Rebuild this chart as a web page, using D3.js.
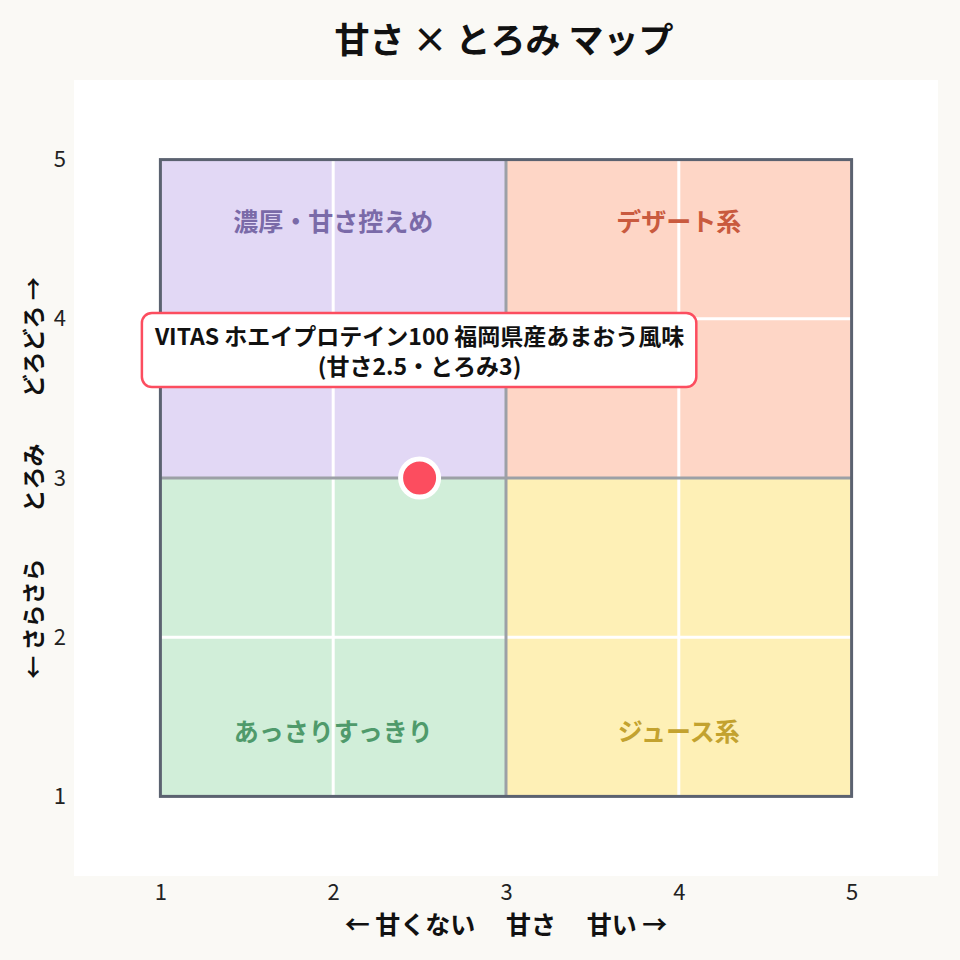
<!DOCTYPE html>
<html>
<head>
<meta charset="utf-8">
<script src="https://cdn.jsdelivr.net/npm/d3@7/dist/d3.min.js"></script>
<style>
  html, body { margin: 0; padding: 0; background: #faf9f5; }
  svg { display: block; font-family: "Noto Sans CJK JP", "Noto Sans", sans-serif; }
</style>
</head>
<body>
<svg id="chart" width="960" height="960"></svg>
<script>
// ---- data ----
const chartTitle = "甘さ × とろみ マップ";
const xTitle = "← 甘くない　 甘さ　 甘い →";
const yTitle = "← さらさら　　とろみ　　どろどろ →";
const xTicks = [1, 2, 3, 4, 5];
const yTicks = [1, 2, 3, 4, 5];
const quadrantLabels = ["濃厚・甘さ控えめ", "デザート系", "あっさりすっきり", "ジュース系"];
const quadrantSweet = [[1, 3], [3, 5], [1, 3], [3, 5]];
const quadrantThick = [[3, 5], [3, 5], [1, 3], [1, 3]];
const quadrantLabelAt = [[2, 4.62], [4, 4.62], [2, 1.42], [4, 1.42]];
const productNames = ["VITAS ホエイプロテイン100 福岡県産あまおう風味"];
const productSweet = [2.5];
const productThick = [3];

// ---- styles ----
const quadFill = ["#e2d8f5", "#fed6c6", "#d1eed9", "#fef0b6"];
const quadText = ["#7a6aa8", "#c95a3e", "#4f9a6b", "#c3a22f"];
const pointColor = "#fc4d5f";

const svg = d3.select("#chart");
const x = d3.scaleLinear().domain([0.5, 5.5]).range([74, 938]);
const y = d3.scaleLinear().domain([0.5, 5.5]).range([876, 80]);

svg.append("rect").attr("width", 960).attr("height", 960).attr("fill", "#faf9f5");
svg.append("rect")
  .attr("x", x(0.5)).attr("y", y(5.5))
  .attr("width", x(5.5) - x(0.5)).attr("height", y(0.5) - y(5.5))
  .attr("fill", "#ffffff");

// quadrants
const quads = quadrantLabels.map((name, i) => ({
  name, sx: quadrantSweet[i], ty: quadrantThick[i], at: quadrantLabelAt[i], i
}));
svg.append("g").selectAll("rect").data(quads).join("rect")
  .attr("x", d => x(d.sx[0])).attr("y", d => y(d.ty[1]))
  .attr("width", d => x(d.sx[1]) - x(d.sx[0]))
  .attr("height", d => y(d.ty[0]) - y(d.ty[1]))
  .attr("fill", d => quadFill[d.i]);

// white grid lines
const gridVals = [2, 4];
svg.append("g").selectAll("line.v").data(gridVals).join("line")
  .attr("x1", d => x(d)).attr("x2", d => x(d))
  .attr("y1", y(5)).attr("y2", y(1))
  .attr("stroke", "#ffffff").attr("stroke-width", 3);
svg.append("g").selectAll("line.h").data(gridVals).join("line")
  .attr("y1", d => y(d)).attr("y2", d => y(d))
  .attr("x1", x(1)).attr("x2", x(5))
  .attr("stroke", "#ffffff").attr("stroke-width", 3);

// mid lines
svg.append("line")
  .attr("x1", x(3)).attr("x2", x(3)).attr("y1", y(5)).attr("y2", y(1))
  .attr("stroke", "#9ca0a6").attr("stroke-width", 3);
svg.append("line")
  .attr("y1", y(3)).attr("y2", y(3)).attr("x1", x(1)).attr("x2", x(5))
  .attr("stroke", "#9ca0a6").attr("stroke-width", 3);

// border
svg.append("rect")
  .attr("x", x(1)).attr("y", y(5))
  .attr("width", x(5) - x(1)).attr("height", y(1) - y(5))
  .attr("fill", "none").attr("stroke", "#5b6270").attr("stroke-width", 3);

// quadrant labels
svg.append("g").selectAll("text").data(quads).join("text")
  .attr("x", d => x(d.at[0])).attr("y", d => y(d.at[1]))
  .attr("text-anchor", "middle").attr("dominant-baseline", "central")
  .attr("font-size", 25).attr("font-weight", 700)
  .attr("fill", d => quadText[d.i])
  .text(d => d.name);

// axes (tick labels only)
const xAxis = svg.append("g").attr("transform", `translate(0,${y(0.5)})`)
  .call(d3.axisBottom(x).tickValues(xTicks).tickSize(0).tickPadding(8).tickFormat(d3.format("d")));
xAxis.select(".domain").remove();
xAxis.selectAll("text").attr("font-size", 22).attr("fill", "#222").attr("font-family", "'Noto Sans CJK JP', sans-serif");

const yAxis = svg.append("g").attr("transform", `translate(${x(0.5)},0)`)
  .call(d3.axisLeft(y).tickValues(yTicks).tickSize(0).tickPadding(8).tickFormat(d3.format("d")));
yAxis.select(".domain").remove();
yAxis.selectAll("text").attr("font-size", 22).attr("fill", "#222").attr("font-family", "'Noto Sans CJK JP', sans-serif");

// titles
svg.append("text").attr("x", 504).attr("y", 53)
  .attr("text-anchor", "middle").attr("font-size", 35).attr("font-weight", 700)
  .attr("fill", "#111").text(chartTitle);

svg.append("text").attr("x", x(3)).attr("y", 934)
  .attr("text-anchor", "middle").attr("font-size", 25).attr("font-weight", 700)
  .attr("fill", "#111").style("white-space", "pre").text(xTitle);

svg.append("text")
  .attr("transform", `translate(42,${y(3)}) rotate(-90)`)
  .attr("text-anchor", "middle").attr("font-size", 23).attr("font-weight", 700)
  .attr("fill", "#111").style("white-space", "pre").text(yTitle);

// product point + label
const products = productNames.map((name, i) => ({ name, sx: productSweet[i], ty: productThick[i] }));
products.forEach(p => {
  const px = x(p.sx), py = y(p.ty);
  const g = svg.append("g");
  const box = g.append("rect");
  const line1 = g.append("text").attr("text-anchor", "middle")
    .attr("font-size", 23).attr("font-weight", 700).attr("fill", "#111")
    .attr("x", px).attr("y", py - 133).text(p.name);
  const line2 = g.append("text").attr("text-anchor", "middle")
    .attr("font-size", 23).attr("font-weight", 700).attr("fill", "#111")
    .attr("x", px).attr("y", py - 103).text(`(甘さ${p.sx}・とろみ${p.ty})`);
  const b1 = line1.node().getBBox(), b2 = line2.node().getBBox();
  const bx0 = Math.min(b1.x, b2.x), bx1 = Math.max(b1.x + b1.width, b2.x + b2.width);
  const by0 = b1.y, by1 = b2.y + b2.height;
  const padX = 12, padY = 5;
  box.attr("x", bx0 - padX).attr("y", by0 - padY)
    .attr("width", bx1 - bx0 + 2 * padX).attr("height", by1 - by0 + 2 * padY)
    .attr("rx", 10).attr("ry", 10)
    .attr("fill", "#ffffff").attr("stroke", pointColor).attr("stroke-width", 2.5);

  svg.append("circle").attr("cx", px).attr("cy", py).attr("r", 19)
    .attr("fill", pointColor).attr("stroke", "#ffffff").attr("stroke-width", 5);
});
</script>
</body>
</html>
